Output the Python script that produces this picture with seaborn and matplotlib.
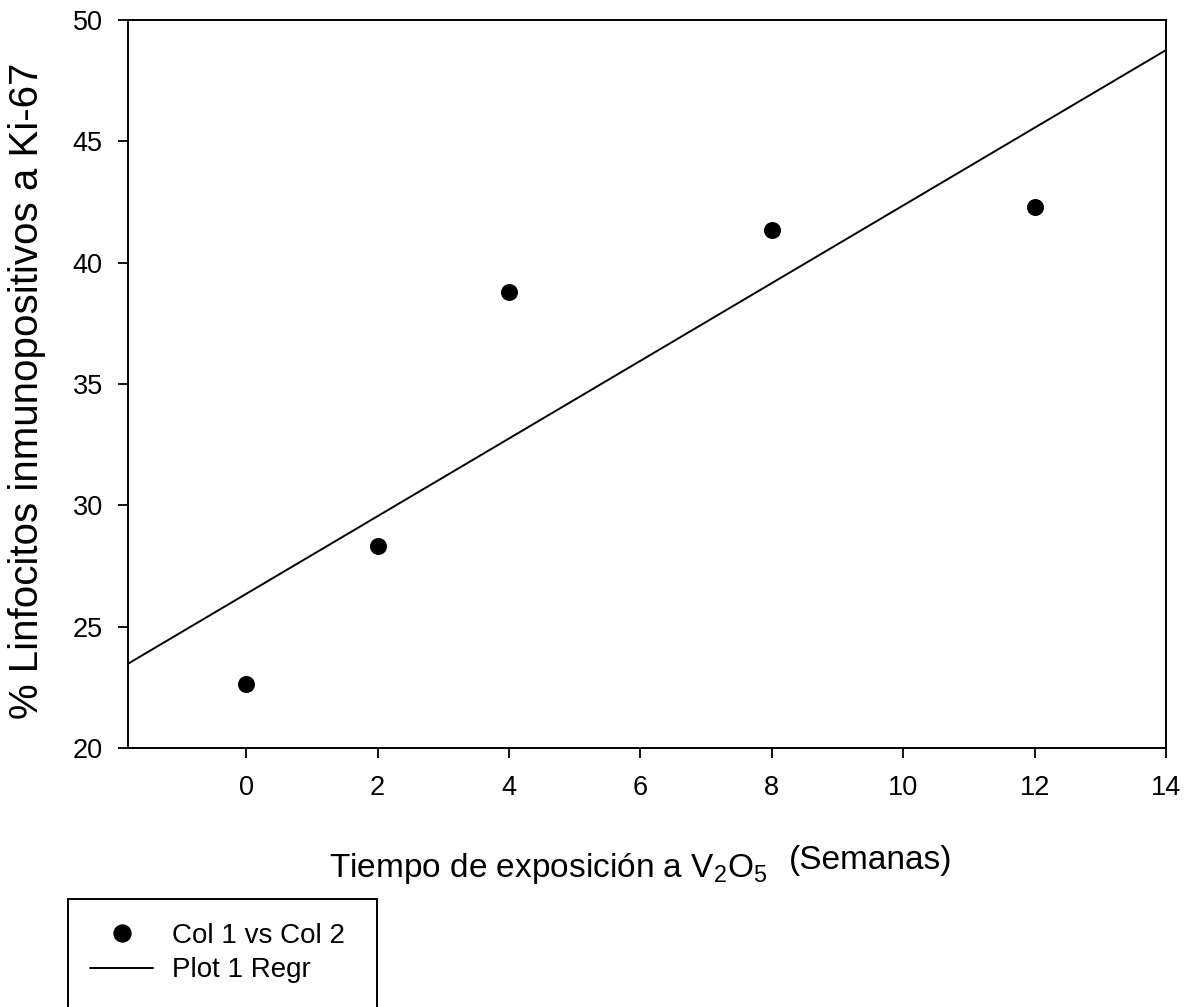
import numpy as np
import pandas as pd
import matplotlib
matplotlib.use("Agg")
import matplotlib.pyplot as plt
import seaborn as sns
from matplotlib.lines import Line2D
from matplotlib.patches import Rectangle

# ---- data ----
weeks = [0, 2, 4, 8, 12]
ki67_pct = [22.64, 28.31, 38.79, 41.34, 42.30]
x_ticks = [0, 2, 4, 6, 8, 10, 12, 14]
y_ticks = [20, 25, 30, 35, 40, 45, 50]
legend_labels = ["Col 1 vs Col 2", "Plot 1 Regr"]

sns.set_style("ticks")
plt.rcParams['font.family'] = ['Liberation Sans', 'DejaVu Sans']
plt.rcParams['text.color'] = 'black'
plt.rcParams['mathtext.fontset'] = 'custom'
plt.rcParams['mathtext.rm'] = 'Liberation Sans'
plt.rcParams['mathtext.it'] = 'Liberation Sans'

W, H = 1190, 1007
fig = plt.figure(figsize=(W / 100, H / 100), dpi=100)
ax = fig.add_axes([128 / W, 1 - 748 / H, (1166 - 128) / W, (748 - 20) / H])

xmin, xmax = -1.8, 14
df = pd.DataFrame({"x": weeks, "y": ki67_pct})

# linear regression drawn across the full x range
slope, intercept = np.polyfit(weeks, ki67_pct, 1)
xr = np.array([xmin, xmax])
reg = pd.DataFrame({"x": xr, "y": intercept + slope * xr})
sns.lineplot(data=reg, x="x", y="y", ax=ax, color="black", lw=1.4)
sns.scatterplot(data=df, x="x", y="y", ax=ax, color="black", s=150,
                edgecolor="black", linewidth=0, zorder=3)

ax.set_xlim(xmin, xmax)
ax.set_ylim(20, 50)
ax.set_xticks(x_ticks)
ax.set_yticks(y_ticks)
ax.tick_params(axis="both", labelsize=19.5, length=7.3, width=1.3, color="black",
               direction="out", labelcolor="black")
ax.tick_params(axis="x", pad=12.3)
ax.tick_params(axis="y", pad=10.8)
for sp in ax.spines.values():
    sp.set_visible(True)
    sp.set_linewidth(1.4)
    sp.set_color("black")

ax.set_xlabel("")
ax.set_ylabel("")

# y label
fig.text(27 / W, 1 - 391 / H, "% Linfocitos inmunopositivos a Ki-67",
         fontsize=29, rotation=90, ha="center", va="center", color="black")

# x label with raised "(Semanas)"
fig.text(329 / W, 1 - 877 / H, r"Tiempo de exposición a V$_2$O$_5$",
         fontsize=24, ha="left", va="baseline", color="black")
fig.text(789 / W, 1 - 869 / H, "(Semanas)", fontsize=24, ha="left",
         va="baseline", color="black")

# legend box extending past the bottom edge
fig.patches.append(Rectangle((68 / W, -0.05), (377 - 68) / W, (1 - 899 / H) + 0.05,
                             transform=fig.transFigure, fill=False,
                             edgecolor="black", linewidth=1.4))
handles = [Line2D([], [], marker="o", color="black", linestyle="none", markersize=12.2),
           Line2D([], [], color="black", lw=1.4)]
fig.legend(handles, legend_labels, loc="upper left",
           bbox_to_anchor=(90 / W, 1 - 923 / H), frameon=False, fontsize=20,
           handlelength=2.27, handletextpad=0.68, labelspacing=0.3,
           borderpad=0, borderaxespad=0, labelcolor="black")

fig.savefig("out.png", dpi=100)
